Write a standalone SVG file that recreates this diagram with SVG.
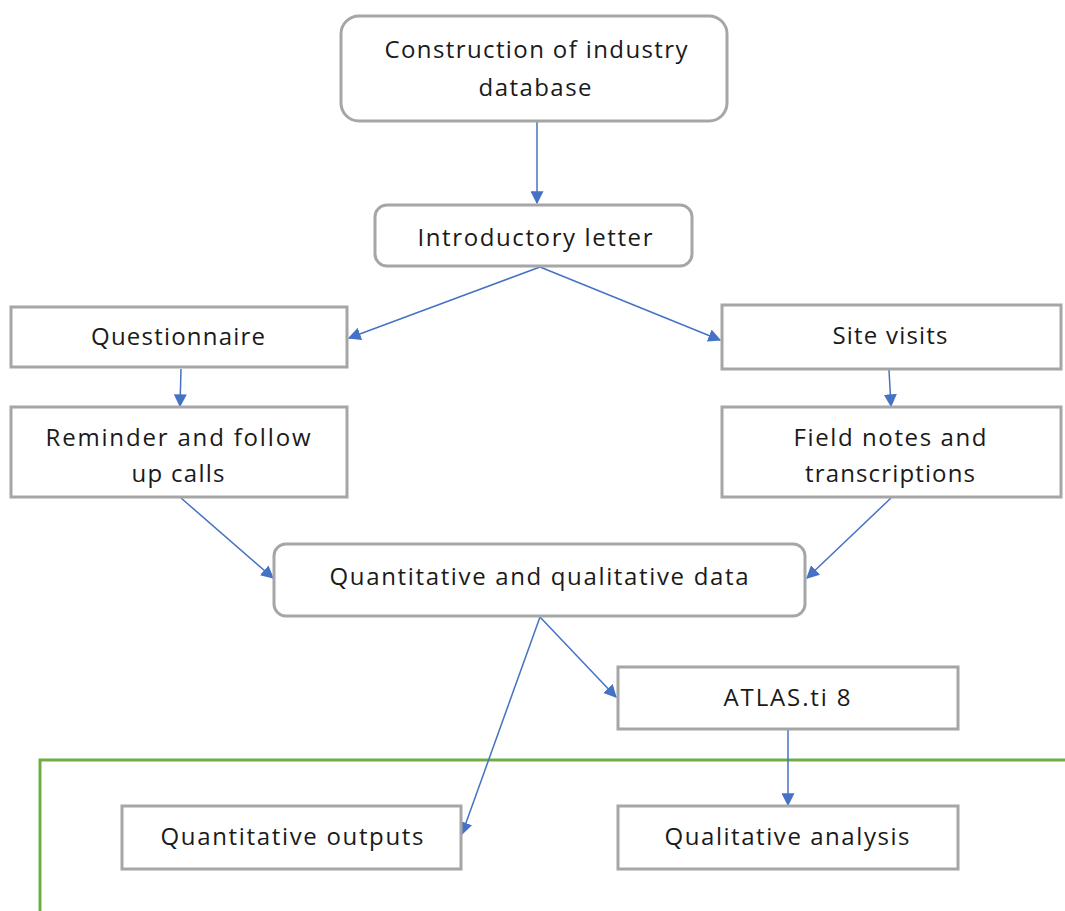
<svg xmlns="http://www.w3.org/2000/svg" width="1065" height="911" viewBox="0 0 1065 911">
<style>
.box{fill:#fff;stroke:#A6A6A6;stroke-width:3}
.t{font-family:"Open Sans","Noto Sans",sans-serif;font-size:24px;fill:#1a1a1a;text-anchor:middle}
.c{stroke:#4472C4;stroke-width:1.5;fill:none;marker-end:url(#ah)}
</style>
<defs>
<marker id="ah" viewBox="0 0 10 10" refX="9" refY="5" markerWidth="13" markerHeight="13" markerUnits="userSpaceOnUse" orient="auto">
<path d="M0,0 L10,5 L0,10 z" fill="#4472C4"/>
</marker>
</defs>
<rect width="1065" height="911" fill="#fff"/>
<polyline points="40,911 40,760 1065,760" fill="none" stroke="#70AD47" stroke-width="3"/>
<g id="connectors">
<line class="c" x1="537" y1="122" x2="537" y2="203"/>
<line class="c" x1="540" y1="267" x2="349" y2="338"/>
<line class="c" x1="540" y1="267" x2="720" y2="340"/>
<line class="c" x1="181" y1="369" x2="180" y2="406"/>
<line class="c" x1="889" y1="370" x2="891" y2="406"/>
<line class="c" x1="181" y1="498" x2="273" y2="578"/>
<line class="c" x1="891" y1="498" x2="807" y2="578"/>
<line class="c" x1="540" y1="617" x2="616" y2="697"/>
<line class="c" x1="540" y1="617" x2="462" y2="834"/>
<line class="c" x1="788" y1="730" x2="788" y2="805"/>
</g>
<g id="n1"><rect class="box" x="341" y="16" width="386" height="105" rx="18"/><text class="t" x="536" y="58" textLength="303" lengthAdjust="spacing">Construction of industry</text><text class="t" x="535" y="96" textLength="113" lengthAdjust="spacing">database</text></g>
<g id="n2"><rect class="box" x="375" y="205" width="317" height="61" rx="12"/><text class="t" x="535" y="246" textLength="235" lengthAdjust="spacing">Introductory letter</text></g>
<g id="n3"><rect class="box" x="11" y="307" width="336" height="60"/><text class="t" x="178" y="345" textLength="174" lengthAdjust="spacing">Questionnaire</text></g>
<g id="n4"><rect class="box" x="722" y="305" width="339" height="64"/><text class="t" x="890" y="344" textLength="115" lengthAdjust="spacing">Site visits</text></g>
<g id="n5"><rect class="box" x="11" y="407" width="336" height="90"/><text class="t" x="178" y="446" textLength="265" lengthAdjust="spacing">Reminder and follow</text><text class="t" x="178" y="482" textLength="93" lengthAdjust="spacing">up calls</text></g>
<g id="n6"><rect class="box" x="722" y="407" width="339" height="90"/><text class="t" x="890" y="446" textLength="193" lengthAdjust="spacing">Field notes and</text><text class="t" x="890" y="482" textLength="170" lengthAdjust="spacing">transcriptions</text></g>
<g id="n7"><rect class="box" x="274" y="544" width="531" height="72" rx="12"/><text class="t" x="539" y="585" textLength="419" lengthAdjust="spacing">Quantitative and qualitative data</text></g>
<g id="n8"><rect class="box" x="618" y="667" width="340" height="62"/><text class="t" x="787" y="706" textLength="127" lengthAdjust="spacing">ATLAS.ti 8</text></g>
<g id="n9"><rect class="box" x="122" y="806" width="339" height="63"/><text class="t" x="292" y="845" textLength="263" lengthAdjust="spacing">Quantitative outputs</text></g>
<g id="n10"><rect class="box" x="618" y="806" width="340" height="63"/><text class="t" x="787" y="845" textLength="245" lengthAdjust="spacing">Qualitative analysis</text></g>
</svg>
